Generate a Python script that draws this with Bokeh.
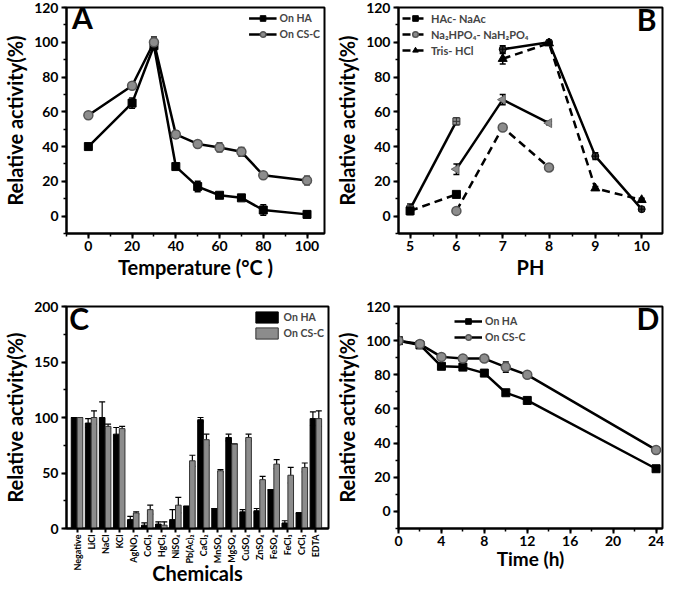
import math
from bokeh.plotting import figure
from bokeh.models import (ColumnDataSource, Whisker, TeeHead, Legend, LegendItem,
                          SingleIntervalTicker, FixedTicker, Range1d, Label)
from bokeh.layouts import column, row
from bokeh.embed import file_html
from bokeh.resources import INLINE
from bokeh.transform import dodge

FONT = "Lato"
GREY = "#8c8c8c"

# ---------------- Panel A: temperature ----------------
temp = [0, 20, 30, 40, 50, 60, 70, 80, 100]
temp_ha = [40, 65, 98, 28.5, 17, 12, 10.5, 3.5, 1]
temp_ha_err = [1, 3, 1, 1, 3, 1, 1, 3, 2]
temp_cs = [58, 75, 100, 47, 41.5, 39.5, 37, 23.5, 20.5]
temp_cs_err = [1.5, 1.5, 3, 2, 1.5, 2.5, 2.5, 1, 2.5]

# ---------------- Panel B: pH ----------------
ph_hac = [5, 6]
hac_dash = [3, 12.5]
hac_dash_err = [1, 1]
hac_solid = [4, 54.5]
hac_solid_err = [3, 2]
ph_na = [6, 7, 8]
na_dash = [3, 51, 28]
na_dash_err = [1, 1.5, 1]
na_solid = [27, 67, 53.5]
na_solid_err = [3, 3, 1]
ph_tris = [7, 8, 9, 10]
tris_dash = [90.5, 99.4, 16, 9.3]
tris_dash_err = [3, 1, 1, 1]
tris_solid = [96, 100, 34.5, 4]
tris_solid_err = [2, 1, 2, 1]

# ---------------- Panel C: chemicals ----------------
chemicals = ["Negative", "LiCl", "NaCl", "KCl", "AgNO\u2083", "CoCl\u2082", "HgCl\u2082",
             "NiSO\u2084", "Pb(Ac)\u2082", "CaCl\u2082", "MnSO\u2084", "MgSO\u2084", "CuSO\u2084",
             "ZnSO\u2084", "FeSO\u2084", "FeCl\u2083", "CrCl\u2083", "EDTA"]
chem_ha = [100, 95, 100, 85, 8, 3, 4, 8, 20, 98, 18, 82, 15, 16, 35, 5, 14, 99]
chem_ha_err = [0, 4, 14, 6, 3, 2, 2, 9, 0, 2, 0, 3, 2, 2, 0, 2, 0, 6]
chem_cs = [100, 100, 92, 90, 14, 17, 3, 21, 61, 80, 52, 76, 82, 44, 58, 48, 55, 99]
chem_cs_err = [0, 6, 2, 2, 1, 4, 3, 7, 5, 5, 1, 0, 3, 3, 4, 7, 4, 7]

# ---------------- Panel D: time ----------------
time_h = [0, 2, 4, 6, 8, 10, 12, 24]
time_ha = [100, 97.5, 85, 84.5, 81, 69.5, 65, 25]
time_ha_err = [1, 1, 1, 1, 1, 1, 1, 1.5]
time_cs = [100, 98, 90.5, 89.5, 89.5, 84.5, 80, 36]
time_cs_err = [1, 1, 1.5, 1.5, 1, 3, 1, 1]


def style(p, xlabel, ylabel, tick_size="14px"):
    p.outline_line_color = "black"
    p.outline_line_width = 2
    p.xgrid.visible = False
    p.ygrid.visible = False
    p.background_fill_color = "white"
    p.border_fill_color = "white"
    for ax in (p.xaxis[0], p.yaxis[0]):
        ax.axis_line_width = 2
        ax.major_tick_line_width = 2
        ax.minor_tick_line_width = 1.5
        ax.major_tick_out = 5
        ax.major_tick_in = 0
        ax.minor_tick_out = 3
        ax.minor_tick_in = 0
        ax.major_label_text_font = FONT
        ax.major_label_text_font_style = "bold"
        ax.major_label_text_font_size = tick_size
        ax.major_label_text_color = "black"
        ax.axis_label_text_font = FONT
        ax.axis_label_text_font_style = "bold"
        ax.axis_label_text_font_size = "20px"
        ax.axis_label_text_color = "black"
        ax.major_label_standoff = 3
        ax.axis_label_standoff = 4
    p.xaxis[0].major_label_standoff = 2
    p.xaxis[0].axis_label_standoff = 1
    p.xaxis[0].axis_label = xlabel
    p.yaxis[0].axis_label = ylabel


def errbars(p, xs, ys, errs, color="black"):
    src = ColumnDataSource(dict(x=xs, lo=[y - e for y, e in zip(ys, errs)],
                                hi=[y + e for y, e in zip(ys, errs)]))
    w = Whisker(source=src, base="x", lower="lo", upper="hi", line_color=color, line_width=1.5,
                upper_head=TeeHead(size=6, line_width=1.5, line_color=color),
                lower_head=TeeHead(size=6, line_width=1.5, line_color=color))
    p.add_layout(w)


def legend(p, items, location, size="10.5px", glyph_w=28):
    lg = Legend(items=items, location=location, border_line_color=None,
                background_fill_alpha=0, label_text_font=FONT,
                label_text_font_style="bold", label_text_font_size=size,
                glyph_width=glyph_w, glyph_height=14, spacing=2, padding=2,
                margin=4, label_standoff=3, label_height=14)
    p.add_layout(lg)


def letter(p, x, y, txt, align="left"):
    p.add_layout(Label(x=x, y=y, text=txt, text_font=FONT, text_font_style="bold",
                       text_font_size="30px", text_align=align, text_color="black"))


H1, H2 = 285, 302
W1, W2 = 332, 333

# ---------- A ----------
pA = figure(width=W1, height=H1, output_backend="svg", toolbar_location=None,
            x_range=Range1d(-10, 108), y_range=Range1d(-10, 120),
            min_border_left=57, min_border_right=8, min_border_top=7, min_border_bottom=52)
style(pA, "Temperature (\u00b0C )", "Relative activity(%)")
pA.xaxis[0].ticker = SingleIntervalTicker(interval=20, num_minor_ticks=2)
pA.yaxis[0].ticker = SingleIntervalTicker(interval=20, num_minor_ticks=2)
errbars(pA, temp, temp_ha, temp_ha_err)
errbars(pA, temp, temp_cs, temp_cs_err)
la1 = pA.line(temp, temp_ha, line_color="black", line_width=2.5)
sa1 = pA.scatter(temp, temp_ha, marker="square", size=8, fill_color="black", line_color="black")
la2 = pA.line(temp, temp_cs, line_color="black", line_width=2.5)
sa2 = pA.scatter(temp, temp_cs, marker="circle", size=9, fill_color=GREY, line_color="#555555",
                 line_width=1.5)
legend(pA, [LegendItem(label="On HA", renderers=[la1, sa1]),
            LegendItem(label="On CS-C", renderers=[la2, sa2])], "top_right")
letter(pA, -7.5, 104, "A")

# ---------- B ----------
pB = figure(width=W2, height=H1, output_backend="svg", toolbar_location=None,
            x_range=Range1d(4.75, 10.45), y_range=Range1d(-10, 120),
            min_border_left=66, min_border_right=3, min_border_top=7, min_border_bottom=52)
style(pB, "PH", "Relative activity(%)")
pB.xaxis[0].ticker = SingleIntervalTicker(interval=1, num_minor_ticks=2)
pB.yaxis[0].ticker = SingleIntervalTicker(interval=20, num_minor_ticks=2)
for xs, ys, es in [(ph_hac, hac_dash, hac_dash_err), (ph_hac, hac_solid, hac_solid_err),
                   (ph_na, na_dash, na_dash_err), (ph_na, na_solid, na_solid_err),
                   (ph_tris, tris_dash, tris_dash_err), (ph_tris, tris_solid, tris_solid_err)]:
    errbars(pB, xs, ys, es)
# solid series
pB.line(ph_hac, hac_solid, line_color="black", line_width=2.5)
pB.scatter(ph_hac, hac_solid, marker="square_cross", size=7, fill_color=GREY, line_color="#333333")
pB.line(ph_na, na_solid, line_color="black", line_width=2.5)
pB.scatter(ph_na, na_solid, marker="triangle", size=9, fill_color=GREY, line_color="#666666",
           angle=math.pi / 2)
pB.line(ph_tris, tris_solid, line_color="black", line_width=2.5)
pB.scatter(ph_tris, tris_solid, marker="circle_cross", size=7, fill_color="#333333",
           line_color="black")
# dashed series
lb1 = pB.line(ph_hac, hac_dash, line_color="black", line_width=2.5, line_dash="8 5")
sb1 = pB.scatter(ph_hac, hac_dash, marker="square", size=8, fill_color="black", line_color="black")
lb2 = pB.line(ph_na, na_dash, line_color="black", line_width=2.5, line_dash="8 5")
sb2 = pB.scatter(ph_na, na_dash, marker="circle", size=9, fill_color=GREY, line_color="#555555",
                 line_width=1.5)
lb3 = pB.line(ph_tris, tris_dash, line_color="black", line_width=2.5, line_dash="8 5")
sb3 = pB.scatter(ph_tris, tris_dash, marker="triangle", size=9, fill_color="black",
                 line_color="black")
legend(pB, [LegendItem(label="HAc- NaAc", renderers=[lb1, sb1]),
            LegendItem(label="Na\u2082HPO\u2084- NaH\u2082PO\u2084", renderers=[lb2, sb2]),
            LegendItem(label="Tris- HCl", renderers=[lb3, sb3])], "top_left",
       size="11px", glyph_w=26)
letter(pB, 10.32, 103, "B", align="right")

# ---------- C ----------
pos = list(range(len(chemicals)))
srcC = ColumnDataSource(dict(x=pos, ha=chem_ha, cs=chem_cs,
                             ha_lo=[v - e for v, e in zip(chem_ha, chem_ha_err)],
                             ha_hi=[v + e for v, e in zip(chem_ha, chem_ha_err)],
                             cs_lo=[v - e for v, e in zip(chem_cs, chem_cs_err)],
                             cs_hi=[v + e for v, e in zip(chem_cs, chem_cs_err)]))
pC = figure(width=W1, height=H2, output_backend="svg", toolbar_location=None,
            x_range=Range1d(-0.75, 17.9), y_range=Range1d(0, 200),
            min_border_left=53, min_border_right=4, min_border_top=21, min_border_bottom=50)
style(pC, "Chemicals", "Relative activity(%)", tick_size="14px")
pC.yaxis[0].ticker = SingleIntervalTicker(interval=50, num_minor_ticks=2)
pC.xaxis[0].ticker = FixedTicker(ticks=pos)
pC.xaxis[0].major_label_overrides = {i: c for i, c in enumerate(chemicals)}
pC.xaxis[0].major_label_orientation = math.pi / 2
pC.xaxis[0].major_label_text_font_size = "9px"
pC.xaxis[0].axis_label_standoff = -13
pC.xaxis[0].major_tick_out = 4
vb1 = pC.vbar(x=dodge("x", -0.21), top="ha", width=0.4, source=srcC, fill_color="black",
              line_color="black")
vb2 = pC.vbar(x=dodge("x", 0.21), top="cs", width=0.4, source=srcC, fill_color=GREY,
              line_color="#333333")
for off, lo, hi in [(-0.21, "ha_lo", "ha_hi"), (0.21, "cs_lo", "cs_hi")]:
    pC.add_layout(Whisker(source=srcC, base=dodge("x", off), lower=lo, upper=hi,
                          line_color="black", line_width=1.2,
                          upper_head=TeeHead(size=6, line_width=1.2),
                          lower_head=TeeHead(size=6, line_width=1.2)))
legend(pC, [LegendItem(label="On HA", renderers=[vb1]),
            LegendItem(label="On CS-C", renderers=[vb2])], "top_right")
letter(pC, -0.55, 173, "C")

# ---------- D ----------
pD = figure(width=W2, height=H2, output_backend="svg", toolbar_location=None,
            x_range=Range1d(0, 24.6), y_range=Range1d(-10, 120),
            min_border_left=66, min_border_right=3, min_border_top=21, min_border_bottom=50)
style(pD, "Time (h)", "Relative activity(%)")
pD.xaxis[0].axis_label_text_font_size = "19px"
pD.xaxis[0].axis_label_standoff = -2
pD.xaxis[0].ticker = SingleIntervalTicker(interval=4, num_minor_ticks=2)
pD.yaxis[0].ticker = SingleIntervalTicker(interval=20, num_minor_ticks=2)
errbars(pD, time_h, time_ha, time_ha_err)
errbars(pD, time_h, time_cs, time_cs_err)
ld1 = pD.line(time_h, time_ha, line_color="black", line_width=2.5)
sd1 = pD.scatter(time_h, time_ha, marker="square", size=8, fill_color="black", line_color="black")
ld2 = pD.line(time_h, time_cs, line_color="black", line_width=2.5)
sd2 = pD.scatter(time_h, time_cs, marker="circle", size=9, fill_color=GREY, line_color="#555555",
                 line_width=1.5)
legend(pD, [LegendItem(label="On HA", renderers=[ld1, sd1]),
            LegendItem(label="On CS-C", renderers=[ld2, sd2])], (56, 184))
letter(pD, 24.3, 102.6, "D", align="right")

layout = column(row(pA, pB), row(pC, pD))
open("out.html", "w").write(file_html(layout, INLINE))
